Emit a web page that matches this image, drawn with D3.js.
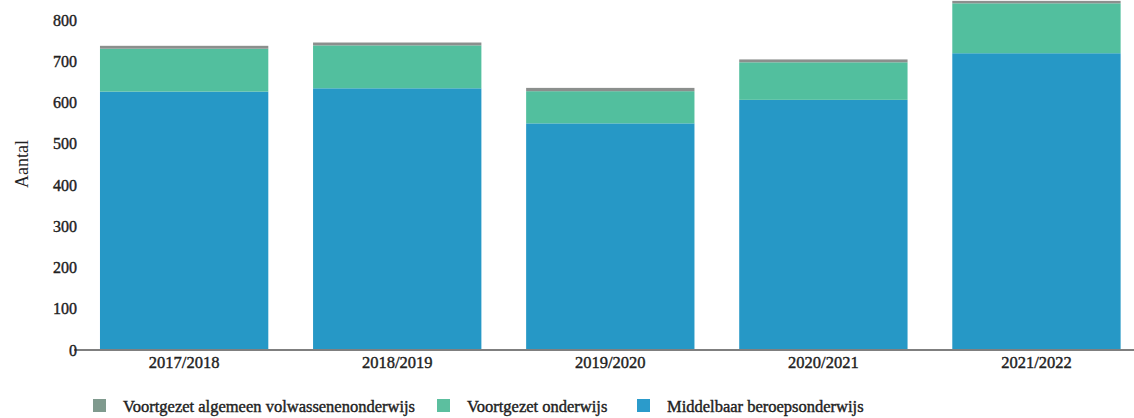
<!DOCTYPE html>
<html><head><meta charset="utf-8">
<script src="https://cdn.jsdelivr.net/npm/d3@7"></script>
<style>body{margin:0;background:#fff}svg{display:block}text{font-family:"Liberation Serif","Times New Roman",serif !important;fill:#222}</style>
</head><body><svg id="c" width="1134" height="418"></svg>
<script>
const categories = ["2017/2018","2018/2019","2019/2020","2020/2021","2021/2022"];
const seriesNames = ["Middelbaar beroepsonderwijs","Voortgezet onderwijs","Voortgezet algemeen volwassenenonderwijs"];
const mbo = [624, 632, 547, 604, 717];
const vo = [104, 104, 78, 91, 121];
const vavo = [7, 7, 8, 7, 6];
const yTicks = [0,100,200,300,400,500,600,700,800];
const legendOrder = ["Voortgezet algemeen volwassenenonderwijs","Voortgezet onderwijs","Middelbaar beroepsonderwijs"];
const colors = {"Middelbaar beroepsonderwijs":"#2698c6","Voortgezet onderwijs":"#52bf9e","Voortgezet algemeen volwassenenonderwijs":"#8b8f8d"};
const legendColors = {"Middelbaar beroepsonderwijs":"#2b9bcb","Voortgezet onderwijs":"#5cbf9f","Voortgezet algemeen volwassenenonderwijs":"#7f9a8e"};

const rows = categories.map((c,i)=>({cat:c,"Middelbaar beroepsonderwijs":mbo[i],"Voortgezet onderwijs":vo[i],"Voortgezet algemeen volwassenenonderwijs":vavo[i]}));
const stack = d3.stack().keys(seriesNames)(rows);

const svg = d3.select("#c");
const x = d3.scaleBand().domain(categories).range([77.6,1143]).paddingInner(0.21).paddingOuter(0.105);
const y = d3.scaleLinear().domain([0,800]).range([349,19]);

svg.append("g").selectAll("g").data(stack).join("g").attr("fill",d=>colors[d.key])
  .selectAll("rect").data(d=>d).join("rect")
  .attr("x",d=>x(d.data.cat)).attr("width",x.bandwidth())
  .attr("y",d=>y(d[1])).attr("height",d=>y(d[0])-y(d[1]));

// baseline
svg.append("line").attr("x1",74).attr("x2",1134).attr("y1",y(0)+1).attr("y2",y(0)+1).attr("stroke","#555").attr("stroke-width",1.5);

const txt = sel => sel.attr("fill","#222").attr("stroke","#222").attr("stroke-width",0.4);

// y axis
const ya = svg.append("g").attr("transform","translate(77,1)").call(d3.axisLeft(y).tickValues(yTicks).tickSize(0).tickPadding(0));
ya.select(".domain").remove();
ya.selectAll("text").style("font-size","16px").call(txt);

// x axis
const xa = svg.append("g").attr("transform",`translate(0,${y(0)+4})`).call(d3.axisBottom(x).tickSize(0).tickPadding(3));
xa.select(".domain").remove();
xa.selectAll("text").style("font-size","16.5px").call(txt);

svg.append("text").attr("transform","translate(28,164) rotate(-90)").attr("text-anchor","middle").style("font-size","18px").text("Aantal");

const legX = [93,437,637];
const lg = svg.append("g").selectAll("g").data(legendOrder).join("g").attr("transform",(d,i)=>`translate(${legX[i]},399)`);
lg.append("rect").attr("width",13).attr("height",13).attr("fill",d=>legendColors[d]);
lg.append("text").attr("x",30).attr("y",13).style("font-size","16.5px").call(txt).text(d=>d);
</script></body></html>
